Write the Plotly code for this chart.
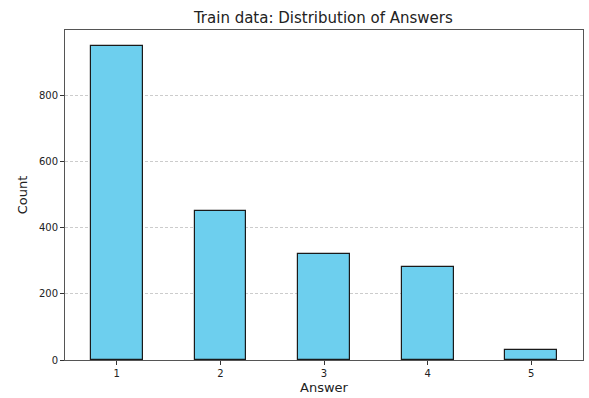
import plotly.graph_objects as go

categories = ["1", "2", "3", "4", "5"]
counts = [950, 450, 319, 282, 31]
y_ticks = [0, 200, 400, 600, 800]

fig = go.Figure(go.Bar(
    x=list(range(len(categories))), y=counts, width=0.5,
    marker=dict(color="#6dcfee", line=dict(color="#1a1a1a", width=1.2)),
))

fig.update_layout(
    width=589, height=398,
    margin=dict(l=65, r=6, t=30, b=38, autoexpand=False),
    paper_bgcolor="white", plot_bgcolor="white",
    font=dict(family="DejaVu Sans", color="#222"),
    title=dict(text="Train data: Distribution of Answers", x=0.549, xanchor="center",
               y=0.955, yanchor="middle", font=dict(size=15, color="#222")),
    showlegend=False,
    bargap=0,
)
fig.update_xaxes(
    range=[-0.5, 4.5], tickvals=list(range(len(categories))), ticktext=categories,
    ticks="outside", ticklen=4, tickcolor="#333", tickfont=dict(size=10),
    showline=True, linecolor="#555", mirror=True, showgrid=False, zeroline=False,
    title=dict(text="Answer", font=dict(size=13), standoff=4),
)
fig.update_yaxes(
    range=[0, 997.5], tickvals=y_ticks,
    ticks="outside", ticklen=4, tickcolor="#333", tickfont=dict(size=10),
    showline=True, linecolor="#555", mirror=True,
    showgrid=True, gridcolor="#cccccc", griddash="3px,2px", gridwidth=0.8, zeroline=False,
    title=dict(text="Count", font=dict(size=13), standoff=8),
)

fig.write_html("out.html", config={"displayModeBar": False},
               post_script="document.body.style.margin='0';document.body.style.padding='0';")
